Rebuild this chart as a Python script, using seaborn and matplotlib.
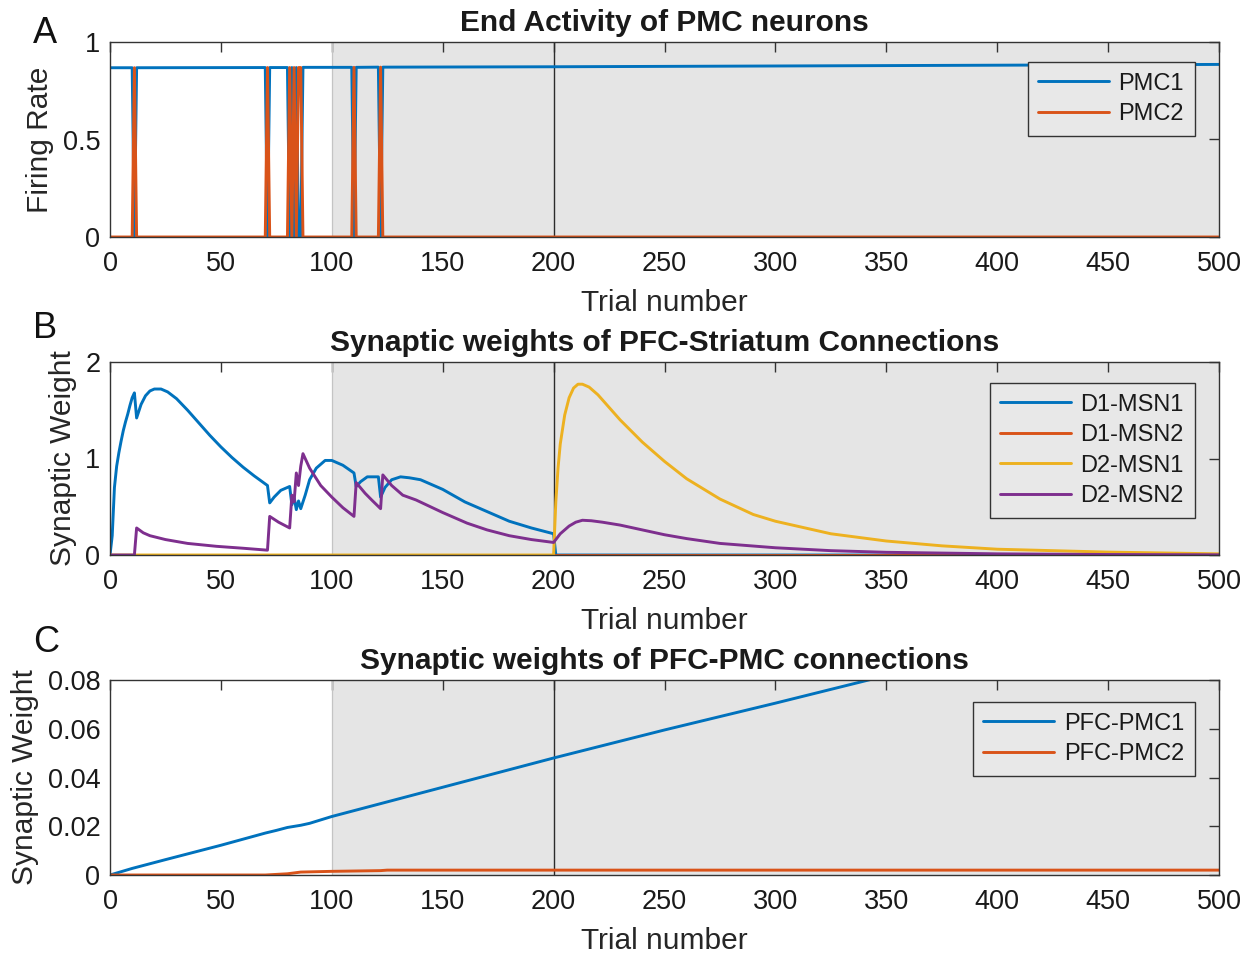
import numpy as np
import pandas as pd
import matplotlib
matplotlib.use("Agg")
import matplotlib.pyplot as plt
import seaborn as sns

# ---------------- data ----------------
# Panel A: end-of-trial firing rate of the two PMC units
pmc1_trial = [0, 10, 11, 12, 70, 71, 72, 80, 81, 82, 83, 84, 85, 86, 87,
              109, 110, 111, 121, 122, 123, 200, 300, 400, 500]
pmc1_rate = [0.868, 0.868, 0.0, 0.868, 0.869, 0.0, 0.869, 0.869, 0.0, 0.869, 0.0, 0.869, 0.0, 0.0, 0.870,
             0.870, 0.0, 0.870, 0.871, 0.0, 0.871, 0.873, 0.877, 0.881, 0.885]
pmc2_trial = [0, 10, 11, 12, 70, 71, 72, 80, 81, 82, 83, 84, 85, 86, 87,
              109, 110, 111, 121, 122, 123, 500]
pmc2_rate = [0.0, 0.0, 0.868, 0.0, 0.0, 0.869, 0.0, 0.0, 0.869, 0.0, 0.869, 0.0, 0.869, 0.869, 0.0,
             0.0, 0.870, 0.0, 0.0, 0.871, 0.0, 0.0]

# Panel B: PFC-striatum synaptic weights
d1msn1_trial = [0, 1, 2, 3, 4, 5, 6, 7, 8, 9, 10, 11, 12, 14, 16, 18, 20, 23, 26, 30, 35, 40, 45,
                50, 55, 60, 65, 71, 72, 74, 77, 81, 82, 83, 84, 85, 86, 88, 90, 93, 97, 100,
                105, 110, 111, 113, 116, 121, 122, 124, 127, 131, 135, 140, 150, 160, 170,
                180, 190, 200, 201, 500]
d1msn1_w = [0.0, 0.2, 0.7, 0.92, 1.06, 1.18, 1.29, 1.38, 1.46, 1.55, 1.63, 1.68, 1.42, 1.56, 1.65,
            1.70, 1.72, 1.72, 1.69, 1.62, 1.50, 1.37, 1.24, 1.12, 1.01, 0.91, 0.82, 0.72, 0.54,
            0.60, 0.67, 0.71, 0.52, 0.60, 0.47, 0.56, 0.48, 0.62, 0.78, 0.90, 0.98, 0.98, 0.93,
            0.85, 0.71, 0.76, 0.81, 0.81, 0.60, 0.70, 0.78, 0.81, 0.80, 0.78, 0.68, 0.55, 0.45,
            0.35, 0.28, 0.22, 0.0, 0.0]
d1msn2_trial = [0, 500]
d1msn2_w = [0.0, 0.0]
d2msn1_trial = [0, 200, 201, 202, 203, 205, 207, 209, 211, 213, 216, 220, 225, 230, 240, 250,
                260, 275, 290, 300, 325, 350, 375, 400, 450, 500]
d2msn1_w = [0.0, 0.0, 0.55, 0.90, 1.15, 1.45, 1.63, 1.73, 1.77, 1.77, 1.74, 1.66, 1.53, 1.40, 1.17,
            0.97, 0.79, 0.58, 0.42, 0.35, 0.22, 0.145, 0.095, 0.06, 0.03, 0.012]
d2msn2_trial = [0, 11, 12, 15, 18, 25, 35, 48, 60, 71, 72, 76, 81, 82, 83, 84, 85, 86, 87, 90, 95,
                100, 105, 110, 111, 115, 118, 122, 123, 127, 132, 138, 150, 161, 170, 180,
                190, 200, 203, 207, 210, 213, 217, 222, 230, 240, 250, 260, 275, 300, 325,
                350, 400, 450, 500]
d2msn2_w = [0.0, 0.0, 0.28, 0.23, 0.20, 0.16, 0.12, 0.09, 0.07, 0.05, 0.40, 0.34, 0.28, 0.62, 0.55,
            0.85, 0.72, 0.92, 1.05, 0.90, 0.72, 0.60, 0.49, 0.40, 0.75, 0.64, 0.57, 0.48, 0.83,
            0.72, 0.62, 0.57, 0.44, 0.33, 0.26, 0.20, 0.16, 0.13, 0.22, 0.30, 0.34, 0.36, 0.355,
            0.34, 0.31, 0.26, 0.21, 0.17, 0.12, 0.075, 0.045, 0.028, 0.012, 0.005, 0.002]

# Panel C: PFC-PMC synaptic weights
pfcpmc1_trial = [0, 10, 25, 50, 70, 75, 80, 86, 90, 100, 125, 150, 175, 200, 250, 300, 342, 400, 500]
pfcpmc1_w = [0.0, 0.0027, 0.0063, 0.0122, 0.0172, 0.0183, 0.0195, 0.0204, 0.0212, 0.0240, 0.0300,
             0.0360, 0.0420, 0.0480, 0.0595, 0.0705, 0.0800, 0.0930, 0.1160]
pfcpmc2_trial = [0, 70, 80, 86, 100, 122, 125, 500]
pfcpmc2_w = [0.0, 0.0, 0.0005, 0.0012, 0.0015, 0.0018, 0.0020, 0.0020]

x_ticks = [0, 50, 100, 150, 200, 250, 300, 350, 400, 450, 500]

# MATLAB-like default colour order
C_BLUE = "#0072BD"
C_ORANGE = "#D95319"
C_YELLOW = "#EDB120"
C_PURPLE = "#7E2F8E"

# ---------------- style ----------------
sns.set_theme(style="white")
plt.rcParams["font.family"] = ["Liberation Sans", "DejaVu Sans"]
plt.rcParams["axes.edgecolor"] = "#333333"
plt.rcParams["text.color"] = "#1a1a1a"
plt.rcParams["xtick.color"] = "#333333"
plt.rcParams["ytick.color"] = "#333333"

TICK_FS = 19.5
LABEL_FS = 21.5
TITLE_FS = 21.5
LEG_FS = 17
LW = 2.1

fig = plt.figure(figsize=(12.51, 9.55), dpi=100)
left, width = 110 / 1251, (1219 - 110) / 1251
axA = fig.add_axes([left, 1 - 237 / 955, width, 195 / 955])
axB = fig.add_axes([left, 1 - 555 / 955, width, 193 / 955])
axC = fig.add_axes([left, 1 - 875 / 955, width, 195 / 955])


def style_axes(ax, ylim, yticks, yticklabels, ylabel, title):
    ax.axvspan(100, 500, color="#e5e5e5", zorder=0, lw=0)
    ax.axvline(100, color="#c4c4c4", lw=0.9, zorder=1)
    ax.axvline(200, color="#2b2b2b", lw=1.0, zorder=1)
    ax.set_xlim(0, 500)
    ax.set_ylim(*ylim)
    ax.set_xticks(x_ticks)
    ax.set_xticklabels([str(t) for t in x_ticks])
    ax.set_yticks(yticks)
    ax.set_yticklabels(yticklabels)
    ax.tick_params(axis="both", which="major", direction="in", length=7, width=1.0,
                   top=True, right=True, labelsize=TICK_FS, labelcolor="#1a1a1a")
    ax.tick_params(axis="x", pad=10)
    ax.tick_params(axis="y", pad=7)
    ax.set_xlabel("Trial number", fontsize=LABEL_FS, labelpad=9)
    ax.set_ylabel(ylabel, fontsize=LABEL_FS, labelpad=6)
    ax.set_title(title, fontsize=TITLE_FS, fontweight="bold", pad=8)
    for sp in ax.spines.values():
        sp.set_visible(True)
        sp.set_linewidth(1.0)
        sp.set_color("#333333")
        sp.set_zorder(5)


def draw(ax, xs, ys, color, label):
    df = pd.DataFrame({"trial": xs, "value": ys})
    sns.lineplot(data=df, x="trial", y="value", ax=ax, color=color, lw=LW,
                 label=label, sort=False, estimator=None, zorder=3, clip_on=True)


def legend(ax, top):
    leg = ax.legend(loc="upper right", bbox_to_anchor=(0.978, top), borderaxespad=0,
                    fontsize=LEG_FS, frameon=True, fancybox=False, handlelength=3.0,
                    handletextpad=0.4, labelspacing=0.36, borderpad=0.45)
    leg.get_frame().set_edgecolor("#333333")
    leg.get_frame().set_facecolor("#e8e8e8")
    leg.get_frame().set_linewidth(1.0)
    leg.get_frame().set_alpha(1.0)


# Panel A
draw(axA, pmc1_trial, pmc1_rate, C_BLUE, "PMC1")
draw(axA, pmc2_trial, pmc2_rate, C_ORANGE, "PMC2")
style_axes(axA, (0, 1), [0, 0.5, 1], ["0", "0.5", "1"], "Firing Rate",
           "End Activity of PMC neurons")
legend(axA, 0.897)

# Panel B
draw(axB, d1msn1_trial, d1msn1_w, C_BLUE, "D1-MSN1")
draw(axB, d1msn2_trial, d1msn2_w, C_ORANGE, "D1-MSN2")
draw(axB, d2msn1_trial, d2msn1_w, C_YELLOW, "D2-MSN1")
draw(axB, d2msn2_trial, d2msn2_w, C_PURPLE, "D2-MSN2")
style_axes(axB, (0, 2), [0, 1, 2], ["0", "1", "2"], "Synaptic Weight",
           "Synaptic weights of PFC-Striatum Connections")
legend(axB, 0.891)

# Panel C
draw(axC, pfcpmc1_trial, pfcpmc1_w, C_BLUE, "PFC-PMC1")
draw(axC, pfcpmc2_trial, pfcpmc2_w, C_ORANGE, "PFC-PMC2")
style_axes(axC, (0, 0.08), [0, 0.02, 0.04, 0.06, 0.08],
           ["0", "0.02", "0.04", "0.06", "0.08"], "Synaptic Weight",
           "Synaptic weights of PFC-PMC connections")
legend(axC, 0.887)

# Panel letters
for letter, ypx in (("A", 43), ("B", 338), ("C", 652)):
    fig.text(33 / 1251, 1 - ypx / 955, letter, fontsize=26, ha="left", va="baseline",
             color="#111111")

fig.savefig("out.png", dpi=100)
